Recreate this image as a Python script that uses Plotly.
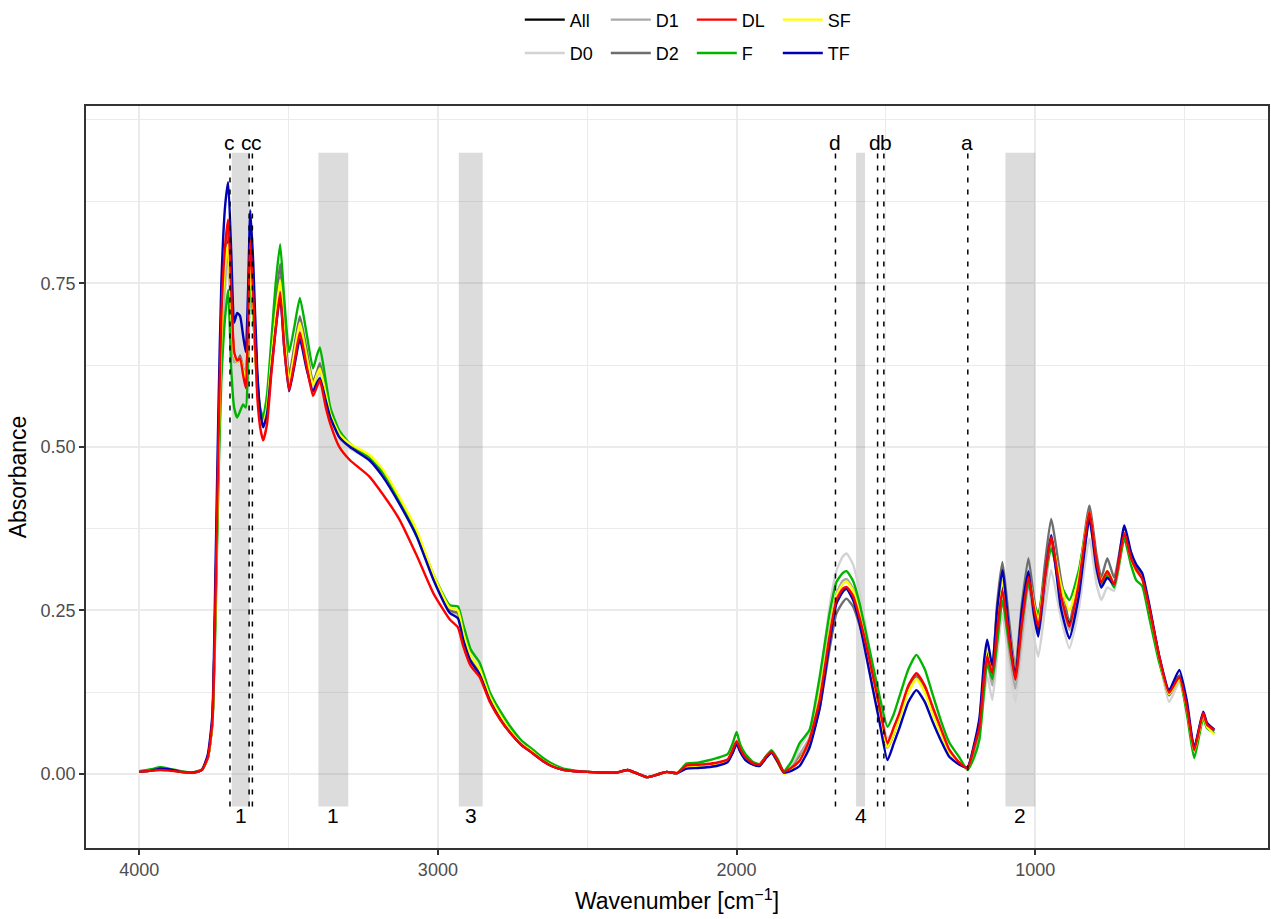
import plotly.graph_objects as go

# Wavenumber grid [cm^-1], descending
WAVENUMBER = [
    4000, 3960, 3930, 3900, 3860, 3820, 3790, 3770, 3755, 3745,
    3735, 3725, 3712, 3702, 3692, 3682, 3672, 3662, 3652, 3643,
    3636, 3628, 3618, 3605, 3595, 3585, 3572, 3558, 3543, 3528,
    3515, 3498, 3480, 3462, 3440, 3418, 3405, 3395, 3375, 3360,
    3330, 3295, 3230, 3185, 3130, 3070, 3015, 2960, 2933, 2915,
    2890, 2860, 2826, 2790, 2760, 2720, 2690, 2650, 2620, 2580,
    2540, 2500, 2450, 2400, 2365, 2330, 2300, 2265, 2234, 2200,
    2167, 2130, 2100, 2067, 2030, 2012, 2000, 1988, 1970, 1945,
    1923, 1900, 1883, 1862, 1842, 1815, 1789, 1756, 1722, 1689,
    1666, 1645, 1632, 1610, 1589, 1555, 1522, 1495, 1475, 1455,
    1425, 1398, 1370, 1344, 1315, 1288, 1254, 1227, 1205, 1187,
    1171, 1161, 1144, 1128, 1110, 1088, 1067, 1045, 1023, 1005,
    990, 968, 947, 915, 886, 855, 819, 795, 779, 759,
    736, 702, 680, 662, 642, 619, 585, 552, 518, 492,
    468, 438, 425, 401,
]

ABS_ALL = [
    .003, .005, .007, .006, .003, .002, .006, .025, .08, .25,
    .48, .66, .78, .83, .72, .64, .63, .635, .62, .60,
    .66, .80, .72, .60, .55, .535, .56, .63, .70, .76,
    .68, .60, .645, .69, .64, .595, .61, .618, .58, .55,
    .515, .50, .482, .458, .418, .365, .30, .248, .244, .21,
    .176, .156, .115, .086, .066, .045, .035, .021, .013, .006,
    .004, .003, .002, .002, .006, .000, -.005, -.001, .003, .001,
    .011, .012, .013, .016, .021, .035, .048, .035, .022, .015,
    .013, .026, .033, .018, .003, .008, .022, .05, .11, .21,
    .265, .28, .284, .27, .238, .17, .098, .04, .06, .088,
    .13, .15, .13, .097, .063, .035, .016, .009, .04, .075,
    .15, .185, .155, .23, .29, .21, .145, .23, .30, .25,
    .22, .29, .36, .27, .23, .29, .40, .32, .29, .31,
    .29, .37, .33, .315, .30, .255, .178, .122, .15, .10,
    .036, .092, .075, .066,
]

ABS_D0 = [
    .003, .005, .007, .006, .003, .002, .006, .025, .08, .24,
    .46, .63, .74, .78, .70, .63, .63, .635, .62, .605,
    .65, .76, .70, .59, .545, .53, .55, .62, .69, .75,
    .67, .595, .64, .685, .635, .59, .605, .615, .575, .545,
    .512, .498, .48, .456, .416, .363, .298, .247, .242, .208,
    .175, .155, .114, .085, .066, .045, .035, .021, .013, .006,
    .004, .003, .002, .002, .006, .000, -.005, -.001, .003, .001,
    .011, .012, .013, .016, .021, .035, .048, .035, .022, .015,
    .013, .026, .033, .018, .003, .015, .04, .065, .14, .255,
    .31, .332, .337, .32, .28, .19, .11, .055, .065, .09,
    .13, .148, .13, .097, .063, .035, .016, .009, .032, .06,
    .12, .15, .113, .18, .246, .17, .11, .19, .262, .21,
    .179, .25, .312, .24, .192, .25, .36, .29, .266, .285,
    .28, .36, .325, .31, .30, .25, .175, .11, .14, .095,
    .035, .09, .072, .065,
]

ABS_D1 = [
    .003, .005, .007, .006, .003, .002, .006, .025, .08, .25,
    .47, .65, .76, .80, .70, .63, .63, .635, .62, .60,
    .65, .78, .70, .59, .545, .535, .555, .625, .70, .76,
    .68, .60, .645, .695, .64, .595, .61, .62, .58, .55,
    .515, .50, .482, .458, .418, .365, .30, .25, .245, .21,
    .176, .156, .115, .086, .066, .045, .035, .021, .013, .006,
    .004, .003, .002, .002, .006, .000, -.005, -.001, .003, .001,
    .011, .012, .013, .016, .021, .035, .048, .035, .022, .015,
    .013, .026, .033, .018, .003, .01, .03, .055, .12, .22,
    .275, .295, .298, .283, .25, .175, .10, .045, .06, .088,
    .13, .148, .13, .097, .063, .035, .016, .009, .035, .07,
    .14, .17, .135, .20, .27, .19, .13, .21, .29, .24,
    .21, .28, .35, .27, .22, .28, .39, .31, .285, .305,
    .29, .37, .33, .315, .30, .255, .178, .12, .145, .10,
    .035, .09, .074, .065,
]

ABS_D2 = [
    .003, .005, .007, .006, .003, .002, .006, .025, .08, .26,
    .49, .68, .79, .84, .73, .64, .63, .64, .62, .60,
    .67, .83, .74, .61, .555, .54, .565, .64, .72, .78,
    .70, .61, .655, .70, .65, .60, .615, .628, .585, .555,
    .518, .502, .484, .46, .42, .367, .302, .25, .246, .212,
    .178, .158, .116, .087, .067, .046, .036, .022, .013, .006,
    .004, .003, .002, .002, .006, .000, -.005, -.001, .003, .001,
    .011, .012, .013, .016, .021, .035, .048, .035, .022, .015,
    .013, .026, .033, .018, .003, .007, .025, .045, .10, .19,
    .245, .262, .268, .256, .228, .17, .10, .045, .062, .09,
    .13, .15, .13, .097, .063, .035, .016, .009, .04, .08,
    .16, .20, .16, .26, .324, .235, .16, .26, .33, .27,
    .235, .32, .39, .30, .235, .30, .41, .335, .30, .33,
    .30, .375, .335, .315, .30, .255, .178, .12, .15, .10,
    .038, .092, .075, .066,
]

ABS_DL = [
    .003, .005, .006, .005, .003, .002, .006, .025, .08, .26,
    .50, .70, .81, .848, .74, .645, .632, .635, .61, .59,
    .68, .815, .73, .58, .53, .51, .535, .61, .68, .737,
    .655, .587, .63, .675, .625, .578, .592, .602, .56, .535,
    .50, .48, .455, .428, .39, .333, .276, .236, .224, .195,
    .165, .148, .11, .082, .064, .044, .034, .02, .012, .006,
    .004, .003, .002, .002, .006, .000, -.005, -.001, .003, .001,
    .013, .014, .015, .017, .022, .038, .05, .038, .025, .016,
    .014, .027, .034, .02, .003, .01, .02, .052, .113, .21,
    .266, .283, .286, .272, .24, .174, .103, .047, .07, .093,
    .135, .154, .135, .103, .068, .037, .017, .009, .04, .072,
    .15, .179, .154, .22, .281, .21, .144, .23, .301, .255,
    .225, .30, .362, .275, .225, .29, .40, .325, .293, .31,
    .29, .368, .33, .312, .298, .255, .179, .124, .148, .10,
    .036, .093, .075, .067,
]

ABS_F = [
    .004, .007, .010, .008, .004, .002, .007, .025, .075, .22,
    .44, .60, .70, .74, .62, .56, .545, .555, .565, .56,
    .62, .76, .70, .60, .56, .545, .58, .66, .75, .81,
    .73, .645, .685, .728, .675, .62, .64, .652, .60, .56,
    .525, .505, .485, .462, .42, .368, .305, .258, .256, .228,
    .19, .17, .125, .095, .074, .051, .040, .025, .016, .008,
    .005, .003, .002, .002, .006, .000, -.005, -.001, .003, .001,
    .016, .017, .020, .024, .030, .048, .064, .045, .030, .018,
    .015, .028, .036, .022, .004, .02, .047, .067, .148, .245,
    .293, .307, .31, .295, .262, .19, .12, .072, .09, .118,
    .16, .182, .16, .122, .08, .048, .025, .006, .025, .053,
    .13, .17, .145, .20, .265, .20, .148, .23, .29, .26,
    .245, .30, .345, .29, .266, .31, .395, .32, .29, .305,
    .285, .36, .32, .296, .287, .24, .17, .125, .145, .09,
    .024, .085, .07, .062,
]

ABS_SF = [
    .003, .005, .007, .006, .003, .002, .006, .025, .08, .25,
    .48, .67, .78, .81, .71, .64, .63, .635, .62, .60,
    .66, .78, .71, .59, .545, .535, .56, .63, .70, .755,
    .675, .60, .645, .69, .64, .595, .61, .62, .58, .55,
    .52, .505, .488, .466, .424, .372, .305, .254, .25, .215,
    .18, .16, .118, .088, .067, .046, .036, .021, .013, .006,
    .004, .003, .002, .002, .006, .000, -.005, -.001, .003, .001,
    .011, .012, .013, .016, .021, .035, .048, .035, .022, .015,
    .013, .026, .033, .017, .000, .008, .022, .05, .12, .215,
    .272, .29, .294, .28, .245, .17, .095, .04, .06, .085,
    .125, .145, .125, .092, .06, .032, .016, .009, .042, .078,
    .16, .195, .16, .24, .296, .22, .155, .24, .305, .26,
    .235, .30, .36, .29, .25, .30, .40, .32, .295, .31,
    .29, .37, .33, .31, .30, .255, .178, .122, .145, .10,
    .035, .09, .072, .06,
]

ABS_TF = [
    .003, .005, .008, .007, .003, .002, .006, .03, .09, .30,
    .55, .75, .87, .905, .80, .69, .705, .70, .67, .645,
    .73, .862, .78, .62, .555, .53, .55, .615, .68, .73,
    .655, .585, .625, .665, .62, .585, .598, .605, .57, .545,
    .515, .50, .48, .455, .414, .362, .297, .246, .238, .205,
    .172, .152, .112, .083, .064, .044, .034, .02, .012, .006,
    .004, .003, .002, .002, .006, .000, -.005, -.001, .003, .001,
    .008, .009, .010, .012, .018, .033, .046, .034, .021, .014,
    .012, .025, .032, .018, .002, .005, .012, .04, .10, .20,
    .26, .278, .283, .266, .232, .155, .08, .021, .045, .07,
    .11, .128, .11, .08, .05, .026, .014, .010, .045, .085,
    .175, .205, .165, .25, .312, .22, .15, .25, .31, .245,
    .21, .30, .365, .255, .207, .27, .39, .315, .285, .30,
    .29, .38, .34, .32, .307, .26, .18, .128, .159, .11,
    .04, .095, .078, .068,
]

# Shaded bands: start, end [cm^-1] and their labels
BAND_START = [3690, 3400, 2930, 1600, 1100]
BAND_END = [3630, 3300, 2850, 1570, 1000]
BAND_LABELS = ["1", "1", "3", "4", "2"]

# Marked band positions [cm^-1], their letters and where each letter sits
MARK_POS = [3696, 3632, 3621, 1669, 1528, 1507, 1226]
MARK_LABELS = ["c", "c", "c", "d", "d", "b", "a"]
MARK_LABEL_POS = [3699, 3641, 3606, 1671, 1535, 1501, 1230]

FONT = "Liberation Sans, Arial, sans-serif"

# name, values, colour, legend row, position in row (drawing order: red on top)
series = [
    ("All", ABS_ALL, "#000000", 1, 1),
    ("D0", ABS_D0, "#D3D3D3", 2, 1),
    ("D1", ABS_D1, "#A9A9A9", 1, 2),
    ("D2", ABS_D2, "#6E6E6E", 2, 2),
    ("F", ABS_F, "#00B400", 2, 3),
    ("SF", ABS_SF, "#FFFF00", 1, 4),
    ("TF", ABS_TF, "#0000B4", 2, 4),
    ("DL", ABS_DL, "#FF0000", 1, 3),
]

fig = go.Figure()
for name, vals, color, row, rank in series:
    assert len(vals) == len(WAVENUMBER), name
    fig.add_trace(go.Scatter(
        x=WAVENUMBER, y=vals, mode="lines", name=name,
        line=dict(color=color, width=2.4, shape="spline", smoothing=0.5),
        legend="legend" if row == 1 else "legend2",
        legendrank=rank,
    ))

Y_LO, Y_HI = -0.05, 0.95

shapes = []
for x0, x1 in zip(BAND_START, BAND_END):
    shapes.append(dict(
        type="rect", xref="x", yref="y", x0=x0, x1=x1, y0=Y_LO, y1=Y_HI,
        fillcolor="rgba(127,127,127,0.27)", line=dict(width=0), layer="between",
    ))
for xp in MARK_POS:
    shapes.append(dict(
        type="line", xref="x", yref="y", x0=xp, x1=xp, y0=Y_LO, y1=Y_HI,
        line=dict(color="black", width=1.5, dash="5px,7px"), layer="above",
    ))

annotations = []
for x0, x1, lab in zip(BAND_START, BAND_END, BAND_LABELS):
    annotations.append(dict(
        x=(x0 + x1) / 2, y=-0.063, xref="x", yref="y", text=lab,
        showarrow=False, xanchor="center", yanchor="middle",
        font=dict(family=FONT, size=21, color="black"),
    ))
for xp, lab in zip(MARK_LABEL_POS, MARK_LABELS):
    annotations.append(dict(
        x=xp, y=0.966, xref="x", yref="y", text=lab,
        showarrow=False, xanchor="center", yanchor="middle",
        font=dict(family=FONT, size=21, color="black"),
    ))

legend_style = dict(
    orientation="h", xanchor="left", yanchor="middle",
    font=dict(family=FONT, size=18, color="black"),
    bgcolor="rgba(0,0,0,0)", entrywidth=31, entrywidthmode="pixels",
    itemwidth=40, traceorder="normal",
)

fig.update_layout(
    width=1271, height=919,
    margin=dict(l=86, r=1, t=106, b=71),
    paper_bgcolor="white", plot_bgcolor="white",
    font=dict(family=FONT, size=18, color="black"),
    shapes=shapes, annotations=annotations,
    showlegend=True,
    legend=dict(x=0.367, y=1.116, **legend_style),
    legend2=dict(x=0.367, y=1.071, **legend_style),
    xaxis=dict(
        range=[4178, 221], tickmode="array", tickvals=[1000, 2000, 3000, 4000],
        ticks="outside", ticklen=5, tickwidth=1.5, tickcolor="#333333",
        tickfont=dict(family=FONT, size=18, color="#4D4D4D"),
        showline=True, linecolor="#333333", linewidth=1.5, mirror=True,
        showgrid=True, gridcolor="#EBEBEB", gridwidth=1.8, zeroline=False,
        minor=dict(tickmode="array", tickvals=[500, 1500, 2500, 3500],
                   showgrid=True, gridcolor="#EBEBEB", gridwidth=0.9, ticks=""),
        title=dict(text="Wavenumber [cm<sup>−1</sup>]",
                   font=dict(family=FONT, size=23, color="black"), standoff=14),
    ),
    yaxis=dict(
        range=[-0.1134, 1.0214], tickmode="array",
        tickvals=[0, 0.25, 0.5, 0.75], ticktext=["0.00", "0.25", "0.50", "0.75"],
        ticks="outside", ticklen=5, tickwidth=1.5, tickcolor="#333333",
        tickfont=dict(family=FONT, size=18, color="#4D4D4D"),
        showline=True, linecolor="#333333", linewidth=1.5, mirror=True,
        showgrid=True, gridcolor="#EBEBEB", gridwidth=1.8, zeroline=False,
        minor=dict(tickmode="array", tickvals=[0.125, 0.375, 0.625, 0.875, 1.0],
                   showgrid=True, gridcolor="#EBEBEB", gridwidth=0.9, ticks=""),
        title=dict(text="Absorbance",
                   font=dict(family=FONT, size=23, color="black"), standoff=8),
    ),
)

fig.write_html("out.html")
